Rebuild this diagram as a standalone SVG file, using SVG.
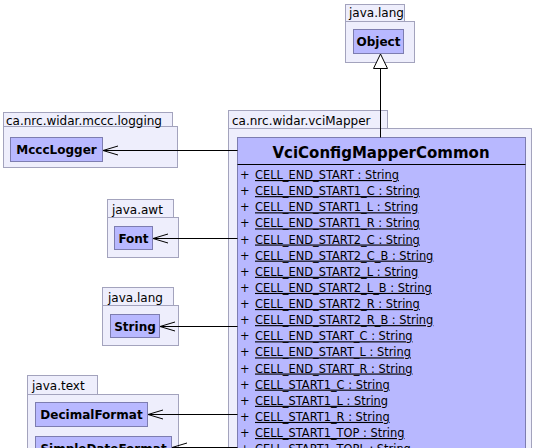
<svg xmlns="http://www.w3.org/2000/svg" width="535" height="448" viewBox="0 0 535 448">
<style>
.pkg{fill:#eeeefc;stroke:#a3a3bd;stroke-width:1}
.cls{fill:#b8b8ff;stroke:#7d7db0;stroke-width:1}
.pl{font-family:"DejaVu Sans",sans-serif;font-size:12px;fill:#000}
.cn{font-family:"DejaVu Sans",sans-serif;font-size:12px;font-weight:bold;fill:#000}
.big{font-family:"DejaVu Sans",sans-serif;font-size:15px;font-weight:bold;fill:#000}
.at{font-family:"DejaVu Sans",sans-serif;font-size:11.4px;fill:#000}
.u{text-decoration:underline}
.ln{stroke:#000;stroke-width:1;fill:none}
</style>
<rect width="535" height="448" fill="#fff"/>
<g id="pkg-java-lang-top">
<rect class="pkg" x="345.5" y="4.5" width="59" height="17"/>
<rect class="pkg" x="345.5" y="21.5" width="69" height="41"/>
<text class="pl" x="349" y="17">java.lang</text>
</g>
<g id="Object">
<rect class="cls" x="353.5" y="29.5" width="50" height="24"/>
<text class="cn" x="378.5" y="46" text-anchor="middle">Object</text>
</g>
<g id="pkg-mccc-logging">
<rect class="pkg" x="3.5" y="112.5" width="169" height="14"/>
<rect class="pkg" x="3.5" y="126.5" width="174" height="41"/>
<text class="pl" x="6" y="124.5">ca.nrc.widar.mccc.logging</text>
</g>
<g id="McccLogger">
<rect class="cls" x="10.5" y="137.5" width="92" height="24"/>
<text class="cn" x="56.5" y="154" text-anchor="middle">McccLogger</text>
</g>
<g id="pkg-java-awt">
<rect class="pkg" x="107.5" y="199.5" width="66" height="18"/>
<rect class="pkg" x="107.5" y="217.5" width="71" height="40"/>
<text class="pl" x="112" y="213.5">java.awt</text>
</g>
<g id="Font">
<rect class="cls" x="114.5" y="226.5" width="38" height="23"/>
<text class="cn" x="133.5" y="242.5" text-anchor="middle">Font</text>
</g>
<g id="pkg-java-lang">
<rect class="pkg" x="102.5" y="287.5" width="71" height="18"/>
<rect class="pkg" x="102.5" y="305.5" width="76" height="40"/>
<text class="pl" x="108" y="301.5">java.lang</text>
</g>
<g id="String">
<rect class="cls" x="110.5" y="314.5" width="49" height="23"/>
<text class="cn" x="135" y="330.5" text-anchor="middle">String</text>
</g>
<g id="pkg-java-text">
<rect class="pkg" x="27.5" y="375.5" width="70" height="19"/>
<rect class="pkg" x="27.5" y="394.5" width="151" height="60"/>
<text class="pl" x="32" y="390">java.text</text>
</g>
<g id="DecimalFormat">
<rect class="cls" x="35.5" y="402.5" width="112" height="24"/>
<text class="cn" x="91.5" y="419" text-anchor="middle">DecimalFormat</text>
</g>
<g id="SimpleDateFormat">
<rect class="cls" x="35.5" y="436.5" width="136" height="24"/>
<text class="cn" x="103.5" y="453" text-anchor="middle">SimpleDateFormat</text>
</g>
<g id="pkg-vciMapper">
<rect class="pkg" x="228.5" y="110.5" width="159" height="18"/>
<rect class="pkg" x="228.5" y="128.5" width="303" height="330"/>
<text class="pl" x="232" y="124.5">ca.nrc.widar.vciMapper</text>
</g>
<g id="VciConfigMapperCommon">
<rect class="cls" x="237.5" y="137.5" width="288" height="320"/>
<text class="big" x="381" y="158" text-anchor="middle">VciConfigMapperCommon</text>
<line x1="237.5" y1="164.5" x2="525.5" y2="164.5" stroke="#000" stroke-width="1"/>
<g class="at">
<text x="240" y="179">+</text><text class="u" x="255" y="179">CELL_END_START : String</text>
<text x="240" y="195.1">+</text><text class="u" x="255" y="195.1">CELL_END_START1_C : String</text>
<text x="240" y="211.3">+</text><text class="u" x="255" y="211.3">CELL_END_START1_L : String</text>
<text x="240" y="227.4">+</text><text class="u" x="255" y="227.4">CELL_END_START1_R : String</text>
<text x="240" y="243.5">+</text><text class="u" x="255" y="243.5">CELL_END_START2_C : String</text>
<text x="240" y="259.6">+</text><text class="u" x="255" y="259.6">CELL_END_START2_C_B : String</text>
<text x="240" y="275.8">+</text><text class="u" x="255" y="275.8">CELL_END_START2_L : String</text>
<text x="240" y="291.9">+</text><text class="u" x="255" y="291.9">CELL_END_START2_L_B : String</text>
<text x="240" y="308">+</text><text class="u" x="255" y="308">CELL_END_START2_R : String</text>
<text x="240" y="324.1">+</text><text class="u" x="255" y="324.1">CELL_END_START2_R_B : String</text>
<text x="240" y="340.3">+</text><text class="u" x="255" y="340.3">CELL_END_START_C : String</text>
<text x="240" y="356.4">+</text><text class="u" x="255" y="356.4">CELL_END_START_L : String</text>
<text x="240" y="372.5">+</text><text class="u" x="255" y="372.5">CELL_END_START_R : String</text>
<text x="240" y="388.6">+</text><text class="u" x="255" y="388.6">CELL_START1_C : String</text>
<text x="240" y="404.8">+</text><text class="u" x="255" y="404.8">CELL_START1_L : String</text>
<text x="240" y="420.9">+</text><text class="u" x="255" y="420.9">CELL_START1_R : String</text>
<text x="240" y="437">+</text><text class="u" x="255" y="437">CELL_START1_TOP : String</text>
<text x="240" y="453.1">+</text><text class="u" x="255" y="453.1">CELL_START1_TOPL : String</text>
</g>
</g>
<g id="connectors">
<line class="ln" x1="380.5" y1="68.5" x2="380.5" y2="137.5"/>
<polygon points="380.5,54 373.5,68.5 387.5,68.5" fill="#fff" stroke="#000" stroke-width="1"/>
<line class="ln" x1="103" y1="150.5" x2="237.5" y2="150.5"/>
<polyline class="ln" points="118,146 103,150.5 118,155"/>
<line class="ln" x1="153" y1="238.5" x2="237.5" y2="238.5"/>
<polyline class="ln" points="168,234 153,238.5 168,243"/>
<line class="ln" x1="160" y1="326.5" x2="237.5" y2="326.5"/>
<polyline class="ln" points="175,322 160,326.5 175,331"/>
<line class="ln" x1="148" y1="414.5" x2="237.5" y2="414.5"/>
<polyline class="ln" points="163,410 148,414.5 163,419"/>
<line class="ln" x1="172" y1="447.5" x2="237.5" y2="447.5"/>
<polyline class="ln" points="187,443 172,447.5 187,452"/>
</g>
</svg>
